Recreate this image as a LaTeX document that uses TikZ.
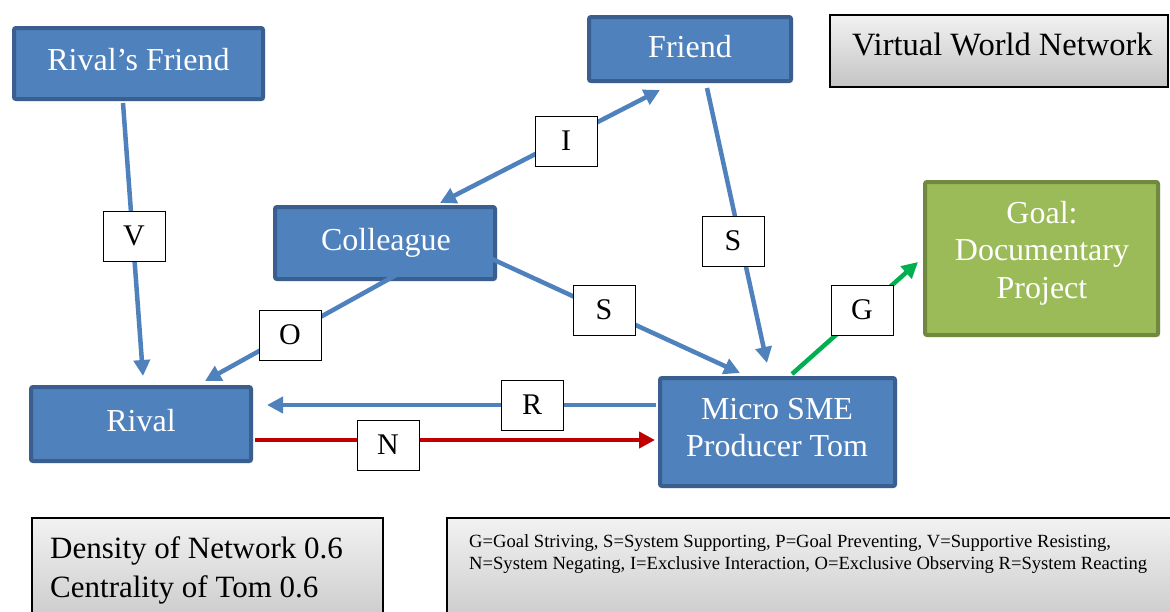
\documentclass[tikz,border=0pt]{standalone}
\usepackage{fontspec}
\setmainfont{Liberation Serif}
\usetikzlibrary{arrows.meta,calc,shadows}
\definecolor{bfill}{HTML}{4F81BD}
\definecolor{bdraw}{HTML}{3A5F8E}
\definecolor{gfill}{HTML}{9BBB59}
\definecolor{gdraw}{HTML}{71893F}
\definecolor{lblue}{HTML}{4F81BD}
\definecolor{lred}{HTML}{C00000}
\definecolor{lgreen}{HTML}{00B050}
\definecolor{gtop}{HTML}{F2F2F2}
\definecolor{gbot}{HTML}{C4C4C4}
\begin{document}
\begin{tikzpicture}[x=1pt,y=-1pt,
  bluebox/.style={draw=bdraw, fill=bfill, line width=4pt, rounded corners=2pt,
    inner sep=0pt,
    drop shadow={opacity=0.25, shadow xshift=2pt, shadow yshift=-2pt}},
  greenbox/.style={bluebox, draw=gdraw, fill=gfill},
  wtext/.style={text=white, font=\fontsize{32}{37}\selectfont, anchor=base, inner sep=0pt},
  btext/.style={text=black, anchor=base west, inner sep=0pt},
  graybox/.style={draw=black, line width=1.5pt, top color=gtop, bottom color=gbot,
    inner sep=0pt},
  lbl/.style={draw=black, fill=white, line width=0.9pt, minimum width=62,
    minimum height=50, inner sep=0pt, font=\fontsize{30}{30}\selectfont},
  tip/.style={-{Triangle[length=16pt,width=16pt]}},
  conn/.style={line width=4.5pt, tip},
  bconn/.style={conn, lblue},
]
\clip (0,0) rectangle (1170,611);
\fill[white] (0,0) rectangle (1170,611);

% gray boxes
\node[graybox, minimum width=338, minimum height=72] (vwn) at (999,51) {};
\node[btext, font=\fontsize{32.5}{32.5}\selectfont] (vwnt) at (852,55) {Virtual World Network};
\draw[graybox] (32,518) rectangle (383,640);
\node[btext, font=\fontsize{31}{31}\selectfont] (dens1) at (50,558) {Density of Network 0.6};
\node[btext, font=\fontsize{31}{31}\selectfont] (dens2) at (50,597) {Centrality of Tom 0.6};
\draw[graybox] (447,518) rectangle (1190,640);
\node[btext, font=\fontsize{18.6}{22}\selectfont] (leg1) at (469,547) {G=Goal Striving, S=System Supporting, P=Goal Preventing, V=Supportive Resisting,};
\node[btext, font=\fontsize{18.6}{22}\selectfont] (leg2) at (469,569) {N=System Negating, I=Exclusive Interaction, O=Exclusive Observing R=System Reacting};

% blue boxes
\node[bluebox, minimum width=249, minimum height=71] (rf) at (138.5,63.5) {};
\node[bluebox, minimum width=202, minimum height=64] (fr) at (690,49) {};
\node[bluebox, minimum width=220, minimum height=72] (col) at (385,243) {};
\node[bluebox, minimum width=220, minimum height=74] (riv) at (141,424) {};
\node[bluebox, minimum width=235, minimum height=108] (tom) at (777.5,432) {};
\node[greenbox, minimum width=233, minimum height=153] (goal) at (1041.5,258.5) {};

\node[wtext] (rft) at (138.5,70) {Rival’s Friend};
\node[wtext] (frt) at (690,57.5) {Friend};
\node[wtext] (colt) at (386,250) {Colleague};
\node[wtext] (rivt) at (141,431.5) {Rival};
\node[wtext] (tomt1) at (777,419) {Micro SME};
\node[wtext] (tomt2) at (777,456) {Producer Tom};
\node[wtext] (goalt1) at (1042,223) {Goal:};
\node[wtext] (goalt2) at (1042,260) {Documentary};
\node[wtext] (goalt3) at (1042,298) {Project};

% connectors
\draw[bconn] ($(rf.south)+(-15.5,2)$) -- ($(riv.north)+(2,-9)$);
\draw[bconn, {Triangle[length=16pt,width=16pt]}-{Triangle[length=16pt,width=16pt]}] ($(col.north)+(55,-2)$) -- ($(fr.south)+(-30,7)$);
\draw[bconn] ($(fr.south)+(17,5)$) -- ($(tom.north)+(-10.5,-13)$);
\draw[bconn] ($(col.east)+(-18,10)$) -- ($(tom.north)+(-37.5,-3)$);
\draw[bconn] ($(col.south)+(22,-12)$) -- ($(riv.north)+(64,-4)$);
\draw[conn, lgreen] ($(tom.north)+(14.5,-2)$) -- ($(goal.west)+(-5,3.5)$);
\draw[bconn] ($(tom.west)+(-2,-27)$) -- ($(riv.east)+(14,-19)$);
\draw[conn, lred] ($(riv.east)+(2,16)$) -- ($(tom.west)+(-3,8)$);

% labels
\node[lbl] (lI) at (566,141) {I};
\node[lbl] (lV) at (134,236) {V};
\node[lbl] (lS1) at (733,241) {S};
\node[lbl] (lS2) at (604,310) {S};
\node[lbl] (lO) at (290,335) {O};
\node[lbl] (lG) at (862,310) {G};
\node[lbl] (lR) at (532,405) {R};
\node[lbl] (lN) at (388,445) {N};
\end{tikzpicture}
\end{document}
